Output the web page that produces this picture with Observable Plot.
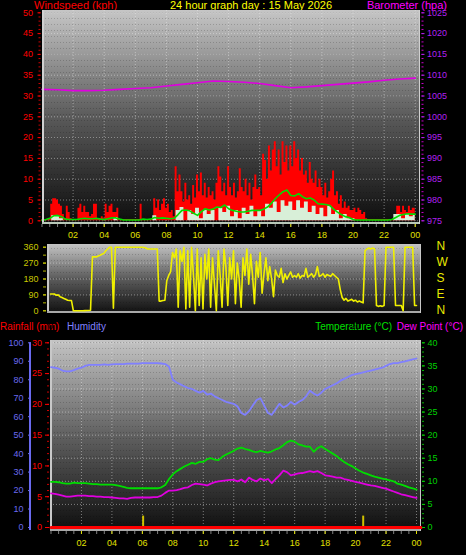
<!DOCTYPE html>
<html><head><meta charset="utf-8">
<script src="https://cdn.jsdelivr.net/npm/d3@7"></script>
<script src="https://cdn.jsdelivr.net/npm/@observablehq/plot@0.6"></script>
<style>
html,body{margin:0;padding:0;background:#000;}
#root{position:relative;width:466px;height:555px;background:#000;overflow:hidden;font-family:"Liberation Sans",Arial,sans-serif;}
.t{position:absolute;font-size:11px;white-space:nowrap;line-height:11px;}
.b{font-size:10px;line-height:10px;}
#root svg{position:absolute;left:0;}
</style></head><body><div id="root">
<div class="t" style="left:34px;top:0px;color:#ff0000">Windspeed (kph)</div>
<div class="t" style="left:0;width:502px;text-align:center;top:0px;color:#ffff00">24 hour graph day : 15 May 2026</div>
<div class="t" style="right:19px;top:0px;color:#ff00ff">Barometer (hpa)</div>
<div class="t b" style="left:0px;top:322px;color:#ff0000">Rainfall (mm)</div>
<div class="t b" style="left:67px;top:322px;color:#8080ff">Humidity</div>
<div class="t b" style="right:74px;top:322px;color:#00e000">Temperature (°C)</div>
<div class="t b" style="right:3px;top:322px;color:#ff00ff">Dew Point (°C)</div>
</div>
<script>
// ---------- DATA ----------
// wind gust (kph), 8 samples per hour from 00:00
const gust = [
 0.3,0.3,0.3,0.3,0.5,4,5.3,5.3,
 5,4,3.5,1.5,0.5,3.5,2,0.5,
 0.3,0.3,0.3,3,4,2,3.5,2,
 2,1,1.5,4,4,0.5,0.5,1,
 0.5,4,2,3.5,4,2,2,3,
 0.3,0.3,0.3,0.3,0.3,0.3,0.3,0.3,
 0.3,0.3,0.3,4,0.3,0.3,0.3,0.3,
 0.3,0.3,5.3,3,5,2.5,4,5.3,
 3,4,2,2.5,1,13,7,11,
 7,4.5,9,5,6,4,8.5,5.5,
 11,7,11.5,6,9,5.5,8,6,
 7,5,9,13,10.5,7,9,6,
 13,8,6,9,5.5,7,12.5,8,
 7,10,6,9,5,8,11,7.5,
 8,6,16,14.5,10,18,12,17,
 19,13,17,11,19,14,18,12,
 18,13,19,15,17,12,15,11,
 12,9,14,10,9,12,8,10,
 8,6,9,5.5,7,10,12,6,
 7,4,6,3,4.5,3,3.5,2.5,
 2.5,3,2,3,2.5,1.5,2,0.5,
 0.3,0.3,0.3,0.3,0.3,0.3,0.3,0.3,
 0.3,0.3,0.3,0.3,0.3,0.3,0.3,3.5,
 3.5,2,3.5,2.5,2,3.5,2.5,3,
 3];
// wind speed (kph), 4 samples per hour
const speed = [
 0,0,0,1.2, 1.3,0.5,0,0, 0,0,0,0, 0,0,0,0, 0,0,0,0.8, 0,0,0,0,
 0,0,0,0, 0,1.2,0,0, 0,0,0,2.5, 3.2,0,2.5,1.5, 3,0.5,2.5,1.5, 2.5,0,3,2,
 3.5,1,2.5,0.5, 3,1.5,3.5,1, 2.5,1,4,3, 4.5,2,4.8,3.5, 4.5,2.5,4.8,3, 4.5,2,3.5,1.5,
 3,1,3.5,1.5, 2.5,0.5,1.5,0.5, 0.5,0,0,0, 0,0,0,0, 0,0,0,1.5, 1.5,0.5,1.5,1,
 1.5];
// average wind (kph), 4 samples per hour
const avgWind = [
 0.1,0.3,0.6,1.2, 1.3,1.0,0.4,0.3, 0.3,0.3,0.5,0.6, 0.5,0.5,0.6,0.4, 0.3,0.5,0.7,0.7, 0.4,0.2,0.2,0.2,
 0.2,0.2,0.4,0.3, 0.4,0.8,0.6,0.7, 0.6,0.5,0.6,1.5, 2.5,2.6,2.4,1.8, 1.3,2.2,2.9,2.6, 2.8,3.3,3.2,3.8,
 2.9,2.5,2.3,2.1, 2.1,2.3,2.5,2.5, 2.5,2.8,3.3,4.2, 5.3,6.2,7.0,7.4, 6.1,6.0,6.5,5.8, 5.3,5.5,5.0,4.1,
 4.0,3.9,3.7,2.8, 2.1,1.5,1.0,0.8, 0.3,0.2,0.2,0.2, 0.2,0.2,0.2,0.2, 0.2,0.2,0.3,0.8, 1.3,1.5,1.7,1.6,
 1.6];
// barometer (hpa), hourly
const baro = [1006.6,1006.5,1006.3,1006.3,1006.4,1006.6,1006.8,1007.0,1007.4,1007.8,1008.2,1008.6,
 1008.5,1008.3,1008.0,1007.5,1007.0,1007.2,1007.5,1007.8,1008.1,1008.4,1008.8,1009.1,1009.3];
// wind direction (deg), 8 samples per hour
const direction = [
 95,95,95,88,90,80,75,70,
 65,60,58,58,0,0,0,0,
 0,0,1,2,2,3,305,305,
 305,310,315,320,325,340,350,360,
 360,15,360,360,360,360,360,360,
 360,360,360,360,360,360,360,360,
 360,358,355,350,350,350,350,350,
 350,55,55,58,60,170,200,220,
 330,300,350,20,340,280,360,10,
 340,20,360,200,0,350,30,300,
 10,320,180,350,20,300,150,0,
 340,200,20,350,250,30,300,180,
 340,40,270,180,20,300,200,350,
 150,320,200,40,280,190,330,100,
 210,300,170,250,180,80,230,200,
 190,240,160,210,180,200,220,190,
 200,190,210,185,200,195,240,190,
 200,210,190,205,250,195,200,210,
 190,205,200,195,210,200,190,180,
 120,75,60,70,55,60,65,55,
 60,50,55,50,45,340,350,355,
 350,355,350,30,25,28,25,30,
 360,360,360,360,360,30,30,30,
 30,0,360,360,360,360,360,30,
 30];
// humidity (%), 4 samples per hour
const humidity = [
 86.8,86.5,86.0,85.0, 84.5,84.5,85.2,86.0, 86.5,87.5,88.0,88.0, 88.0,88.0,88.3,88.0,
 88.3,88.5,88.5,88.5, 88.7,88.7,88.7,88.7, 89.0,89.0,89.0,89.0, 89.0,88.8,88.5,87.0,
 80.0,78.5,77.5,76.5, 75.5,75.0,74.0,73.0, 74.0,72.0,72.5,71.0, 70.0,69.0,68.0,67.5,
 67.0,65.5,62.0,61.0, 63.0,66.0,69.0,70.0, 66.0,62.0,61.0,64.0, 67.0,65.0,66.0,68.0,
 66.5,68.0,69.0,71.0, 74.0,72.5,71.5,73.0, 75.0,76.0,77.0,78.0, 79.5,80.5,81.5,82.5,
 83.0,83.5,84.0,84.5, 85.0,85.5,86.0,86.5, 87.5,88.5,89.0,89.0, 89.5,90.0,90.5,91.0,
 91.5];
// temperature (°C), 4 samples per hour
const temperature = [
 9.9,9.9,9.8,9.6, 9.5,9.5,9.7,9.6, 9.6,9.6,9.5,9.4, 9.4,9.3,9.3,9.3, 9.3,9.2,9.0,8.8, 8.6,8.5,8.5,8.5,
 8.5,8.5,8.5,8.5, 8.5,8.7,9.2,10.5, 11.5,12.2,12.7,13.2, 13.6,14.0,13.8,14.2, 14.2,14.8,15.0,14.7, 14.6,15.3,15.8,16.2,
 16.6,17.1,17.3,17.0, 16.8,16.5,16.3,16.6, 16.4,16.2,16.5,16.9, 17.2,17.8,18.5,18.8, 18.6,18.0,17.8,17.5, 17.5,16.4,17.2,17.6,
 17.0,16.5,16.0,15.5, 14.8,14.2,13.7,13.3, 12.8,12.3,11.9,11.6, 11.3,11.0,10.8,10.6, 10.4,10.2,10.0,9.5, 9.3,9.0,8.7,8.5,
 8.2];
// dew point (°C), 4 samples per hour
const dewPoint = [
 7.4,7.3,7.1,6.9, 6.7,6.7,6.8,6.9, 6.9,6.9,6.8,6.8, 6.7,6.7,6.6,6.6, 6.5,6.4,6.3,6.3, 6.2,6.4,6.5,6.5,
 6.5,6.5,6.5,6.6, 6.6,6.9,7.5,8.0, 8.0,8.1,8.3,8.6, 8.7,9.2,9.5,9.4, 9.3,9.1,9.5,9.8, 10.0,10.1,10.2,10.3,
 10.3,10.0,10.4,9.8, 10.8,10.3,10.0,10.6, 10.2,10.5,9.6,10.5, 11.3,12.3,12.0,11.3, 11.5,11.7,11.8,12.0, 12.2,12.0,12.2,11.8,
 11.3,11.2,11.0,10.8, 10.8,10.5,10.3,10.1, 9.9,9.7,9.5,9.3, 9.1,9.0,8.8,8.6, 8.4,8.1,7.8,7.5, 7.2,7.0,6.8,6.6,
 6.4];
// rainfall (mm)
const rainHours = [0, 24.3];
const rainTotal = [0, 0];
const rainEventHours = [6.05, 20.5];
const rainEventSize = [2.5, 2.5];

// tick labels
const hourTicks = [2,4,6,8,10,12,14,16,18,20,22,24];
const windTicks = [0,5,10,15,20,25,30,35,40,45,50];
const baroTicks = [975,980,985,990,995,1000,1005,1010,1015,1020,1025];
const dirTicks = [0,90,180,270,360];
const dirLetters = ["N","E","S","W","N"];
const humTicks = [0,10,20,30,40,50,60,70,80,90,100];
const rainTicks = [0,5,10,15,20,25,30];
const tempTicks = [0,5,10,15,20,25,30,35,40];

// ---------- helpers ----------
const rows = (arr, step, key) => arr.map((v, i) => ({h: i * step, [key]: v}));
const hh = h => String(h % 24).padStart(2, "0");
const halfHours = d3.range(0, 24.01, 0.5);

function background(id, stops) {
  return (index, scales, values, dims) => {
    const g = d3.create("svg:g");
    const x0 = dims.marginLeft, y0 = dims.marginTop;
    const w = dims.width - dims.marginLeft - dims.marginRight;
    const h = dims.height - dims.marginTop - dims.marginBottom;
    const defs = g.append("defs");
    const grad = defs.append("linearGradient").attr("id", id)
      .attr("x1", 0).attr("y1", 0).attr("x2", 0).attr("y2", 1);
    stops.forEach(([o, c]) => grad.append("stop").attr("offset", o).attr("stop-color", c));
    const pat = defs.append("pattern").attr("id", id + "p").attr("width", 3).attr("height", 6)
      .attr("patternUnits", "userSpaceOnUse");
    pat.append("rect").attr("x", 0).attr("y", 0).attr("width", 1).attr("height", 1).attr("fill", "#000").attr("fill-opacity", 0.18);
    g.append("rect").attr("x", x0).attr("y", y0).attr("width", w).attr("height", h).attr("fill", `url(#${id})`);
    g.append("rect").attr("x", x0).attr("y", y0).attr("width", w).attr("height", h).attr("fill", `url(#${id}p)`);
    return g.node();
  };
}
function bevel(colLeft, colBottom) {
  return (index, scales, values, dims) => {
    const g = d3.create("svg:g");
    const x0 = dims.marginLeft, y0 = dims.marginTop;
    const w = dims.width - dims.marginLeft - dims.marginRight;
    const h = dims.height - dims.marginTop - dims.marginBottom;
    g.append("rect").attr("x", x0).attr("y", y0).attr("width", 2).attr("height", h).attr("fill", colLeft);
    g.append("rect").attr("x", x0).attr("y", y0 + h - 2).attr("width", w).attr("height", 2).attr("fill", colBottom);
    g.append("rect").attr("x", x0 + w - 1).attr("y", y0).attr("width", 1).attr("height", h).attr("fill", colLeft);
    return g.node();
  };
}
const baseStyle = {background: "transparent", fontFamily: "Liberation Sans, Arial, sans-serif", fontSize: "9px", overflow: "visible"};
const gridOpts = {stroke: "#f0f0f0", strokeOpacity: 0.45, strokeDasharray: "1,2"};
const root = document.getElementById("root");

// ---------- panel 1: wind + barometer ----------
const p1 = Plot.plot({
  width: 466, height: 242,
  marginTop: 10, marginBottom: 18, marginLeft: 42, marginRight: 46,
  x: {domain: [0, 24.34], range: [41.5, 420], label: null},
  y: {domain: [0, 50], range: [220.3, 12.3], label: null},
  style: baseStyle,
  marks: [
    background("bg1", [[0, "#c6c6c6"], [0.5, "#5a5a5a"], [1, "#0c0c0c"]]),
    Plot.gridY(windTicks, gridOpts),
    Plot.gridX(hourTicks, gridOpts),
    Plot.areaY(rows(gust, 0.125, "v"), {x: "h", y: "v", fill: "#ff0000", curve: "step"}),
    Plot.areaY(rows(speed, 0.25, "v"), {x: "h", y: "v", fill: "#d8efd8", curve: "step"}),
    Plot.line(rows(avgWind, 0.25, "v"), {x: "h", y: "v", stroke: "#00dd00", strokeWidth: 1.6}),
    Plot.line(rows(baro, 1, "p"), {x: "h", y: d => d.p - baroTicks[0], stroke: "#e000e0", strokeWidth: 1.6}),
    bevel("#d0d0d0", "#b8c8b8"),
    Plot.axisY(d3.range(0, 51, 1), {anchor: "left", tickSize: 2, dx: -1.5, tickFormat: () => "", color: "#cc0000"}),
    Plot.axisY(windTicks, {anchor: "left", tickSize: 3, dx: -1.5, tickPadding: 5, color: "#ff0000", label: null}),
    Plot.axisY(d3.range(0, 51, 1), {anchor: "right", tickSize: 2, dx: 0.5, tickFormat: () => "", color: "#cc00cc"}),
    Plot.axisY(baroTicks.map(p => p - baroTicks[0]), {anchor: "right", tickSize: 3, dx: 0.5, tickPadding: 3,
      tickFormat: d => String(d + baroTicks[0]), color: "#b020f0", label: null}),
    Plot.axisX(halfHours, {anchor: "bottom", tickSize: 3, tickFormat: () => "", color: "#808080"}),
    Plot.axisX(hourTicks, {anchor: "bottom", tickSize: 3, tickPadding: 4, tickFormat: hh, color: "#e0e000", label: null})
  ]
});
p1.style.top = "0px";
root.appendChild(p1);

// ---------- panel 2: wind direction ----------
const p2 = Plot.plot({
  width: 466, height: 76,
  marginTop: 2, marginBottom: 5, marginLeft: 47, marginRight: 45,
  x: {domain: [0, 24], range: [50, 416], label: null},
  y: {domain: [0, 360], range: [68.3, 4.7], label: null},
  style: baseStyle,
  marks: [
    background("bg2", [[0, "#c4c4c4"], [0.5, "#5c5c5c"], [1, "#101010"]]),
    Plot.gridY([90, 180, 270], gridOpts),
    bevel("#c8c8c8", "#a8a8a8"),
    Plot.line(rows(direction, 0.125, "d"), {x: "h", y: "d", stroke: "#f0f000", strokeWidth: 1.6}),
    Plot.axisY(d3.range(0, 361, 45), {anchor: "left", tickSize: 3, dx: -1, tickFormat: () => "", color: "#b8b800"}),
    Plot.axisY(dirTicks, {anchor: "left", tickSize: 3, dx: -1, tickPadding: 5, color: "#c8c800", label: null}),
    Plot.axisY(dirTicks, {anchor: "right", tickSize: 0, tickPadding: 15, fontSize: 12, dy: -1,
      tickFormat: d => dirLetters[dirTicks.indexOf(d)], color: "#e8e800", label: null})
  ]
});
p2.style.top = "242px";
root.appendChild(p2);

// ---------- panel 3: humidity, temperature, dew point, rainfall ----------
const p3 = Plot.plot({
  width: 466, height: 237,
  marginTop: 22, marginBottom: 24, marginLeft: 50, marginRight: 45,
  x: {domain: [0, 24], range: [50.5, 416], label: null},
  y: {domain: [0, 100], range: [209, 24.3], label: null},
  style: baseStyle,
  marks: [
    background("bg3", [[0, "#c4c4c4"], [0.5, "#606060"], [1, "#0e0e0e"]]),
    Plot.gridY(tempTicks.map(t => t * 2.5), gridOpts),
    Plot.gridX(hourTicks, gridOpts),
    bevel("#c8c8c8", "#a8a8a8"),
    Plot.line(rows(humidity, 0.25, "v"), {x: "h", y: "v", stroke: "#8080ff", strokeWidth: 1.8}),
    Plot.line(rows(temperature, 0.25, "v"), {x: "h", y: d => d.v * 2.5, stroke: "#00dd00", strokeWidth: 1.8}),
    Plot.line(rows(dewPoint, 0.25, "v"), {x: "h", y: d => d.v * 2.5, stroke: "#e000e0", strokeWidth: 1.8}),
    Plot.ruleX(rainEventHours.map((h, i) => ({h, r: rainEventSize[i]})),
      {x: "h", y1: 0, y2: d => d.r * 100 / 30, stroke: "#d0c000", strokeWidth: 2, insetBottom: -4}),
    Plot.line(rainHours.map((h, i) => ({h, r: rainTotal[i]})), {x: "h", y: d => d.r * 100 / 30, stroke: "#ff0000", strokeWidth: 3}),
    // humidity axis line
    (index, scales, values, dims) => {
      const g = d3.create("svg:g");
      g.append("rect").attr("x", dims.marginLeft - 21).attr("y", scales.y(100))
        .attr("width", 2).attr("height", scales.y(0) - scales.y(100) + 3).attr("fill", "#6a6af0");
      return g.node();
    },
    Plot.axisY(humTicks, {anchor: "left", tickSize: 3, dx: -19, tickPadding: 5, color: "#6a6af0", label: null}),
    Plot.axisY(d3.range(0, 31, 1).map(r => r * 100 / 30), {anchor: "left", tickSize: 2, dx: -1, tickFormat: () => "", color: "#cc0000"}),
    Plot.axisY(rainTicks.map(r => r * 100 / 30), {anchor: "left", tickSize: 4, dx: -1, tickPadding: 3.5,
      tickFormat: d => String(Math.round(d * 30 / 100)), color: "#ff0000", label: null}),
    Plot.axisY(d3.range(0, 41, 1).map(t => t * 2.5), {anchor: "right", tickSize: 2, tickFormat: () => "", color: "#00b000"}),
    Plot.axisY(tempTicks.map(t => t * 2.5), {anchor: "right", tickSize: 3, tickPadding: 3,
      tickFormat: d => String(Math.round(d / 2.5)), color: "#00d000", label: null}),
    Plot.axisX(halfHours, {anchor: "bottom", tickSize: 3, tickFormat: () => "", color: "#808080"}),
    Plot.axisX(hourTicks, {anchor: "bottom", tickSize: 3, tickPadding: 5, tickFormat: hh, color: "#e0e000", label: null})
  ]
});
p3.style.top = "318px";
root.appendChild(p3);
</script>
</body></html>
